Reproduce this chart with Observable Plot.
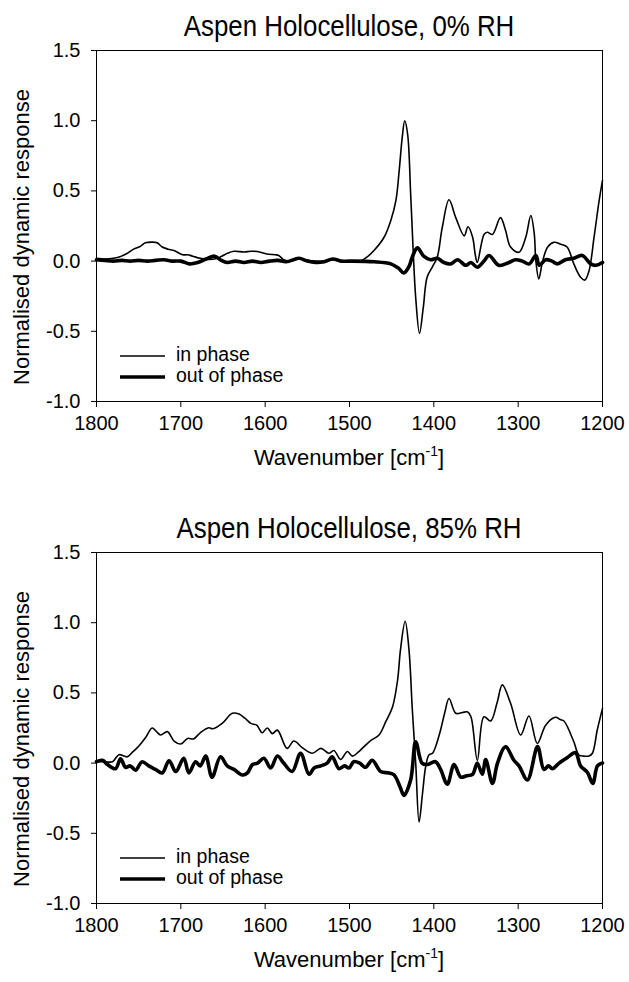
<!DOCTYPE html>
<html>
<head>
<meta charset="utf-8">
<script src="https://cdn.jsdelivr.net/npm/d3@7"></script>
<script src="https://cdn.jsdelivr.net/npm/@observablehq/plot@0.6"></script>
<style>
  html, body { margin: 0; padding: 0; background: #fff; }
  #page { position: relative; width: 629px; height: 982px; overflow: hidden; font-family: "Liberation Sans", Arial, sans-serif; color: #000; }
  .title { position: absolute; left: 96px; width: 506px; text-align: center; font-family: "Liberation Sans", Arial, sans-serif; font-size: 30px; line-height: 30px; white-space: nowrap; transform: scaleX(0.862); transform-origin: 50% 50%; }
  .xlabel { position: absolute; left: 96px; width: 506px; text-align: center; font-size: 22px; line-height: 22px; white-space: nowrap; }
  .xlabel sup { font-size: 14px; vertical-align: 9px; line-height: 0; }
  .ylabel { position: absolute; width: 340px; text-align: center; font-size: 22px; line-height: 22px; transform: translate(-50%, -50%) rotate(-90deg); white-space: nowrap; }
  .panel { position: absolute; left: 0; }
  .legend { position: absolute; font-size: 19.5px; line-height: 20px; }
  .legend .row { position: absolute; left: 0; white-space: nowrap; height: 20px; }
  .legend svg { position: absolute; left: 0; top: 0; overflow: visible; }
  .legend span { position: absolute; left: 56px; top: 0; }
</style>
</head>
<body>
<div id="page"></div>
<script>
// ---------------- data ----------------
// Panel 1: Aspen Holocellulose, 0% RH
const wn0In = [1800,1790,1780,1773,1765,1756,1748,1742,1734,1728,1722,1715,1708,1698,1692,1686,1677,1668,1660,1653,1645,1637,1625,1617,1609,1598,1588,1584,1578,1570,1560,1550,1540,1530,1518,1510,1500,1487,1479,1471,1459,1451,1445,1441,1437.5,1434.5,1431,1427.5,1424.5,1421.5,1417,1412.5,1408,1402,1396,1390,1382,1374,1364,1359.5,1354,1351,1348.5,1340.5,1336.5,1330.5,1321,1315,1309,1299,1291,1285,1281,1279,1275.5,1271,1265,1257.5,1249.5,1242,1234,1226,1221,1216,1210,1204,1200];
const val0In = [0.02,0.015,0.02,0.03,0.05,0.085,0.105,0.13,0.135,0.13,0.1,0.085,0.075,0.045,0.045,0.035,0.02,0.012,0.015,0.03,0.055,0.07,0.065,0.07,0.068,0.05,0.045,0.04,0.01,0.0,0.015,0.005,0.0,0.0,0.01,0.0,0.0,0.0,0.03,0.075,0.17,0.29,0.43,0.65,0.88,1.0,0.9,0.48,0.075,-0.26,-0.515,-0.33,-0.115,-0.044,0.027,0.24,0.437,0.31,0.18,0.245,0.17,0.05,-0.01,0.19,0.206,0.19,0.31,0.22,0.1,0.063,0.17,0.325,0.2,0.0,-0.127,0.0,0.1,0.134,0.12,0.1,-0.02,-0.115,-0.135,-0.07,0.17,0.43,0.575];

const wn0Out = [1800,1790,1780,1770,1760,1750,1740,1730,1720,1710,1700,1690,1680,1670,1660,1652,1645,1635,1625,1615,1605,1595,1585,1575,1560,1550,1540,1530,1520,1510,1500,1471,1451,1442,1435.5,1429.5,1425.5,1419.5,1412,1404,1396,1388,1380,1372,1362,1356,1348.5,1340.5,1334.5,1323,1311,1303,1295,1287,1279,1275,1267.5,1260,1253.5,1244,1234,1224,1214,1208,1200];
const val0Out = [0.01,0.005,0.0,0.005,0.0,0.005,0.0,0.005,0.01,0.0,0.0,-0.02,-0.01,0.015,0.035,0.005,-0.01,0.0,-0.01,0.0,-0.01,0.0,0.005,-0.005,0.02,0.0,-0.01,-0.005,0.015,0.0,0.0,-0.005,-0.02,-0.05,-0.085,-0.04,0.03,0.094,0.035,0.01,0.02,-0.01,-0.02,0.01,-0.03,-0.01,-0.044,0.0,0.04,-0.03,-0.01,0.01,0.0,-0.02,0.04,-0.03,0.01,0.0,-0.02,0.01,0.02,0.04,-0.02,-0.03,-0.01];

// Panel 2: Aspen Holocellulose, 85% RH
const wn85In = [1800,1790,1781,1773.5,1767,1763.5,1757,1750,1742,1734,1729,1724,1716,1708,1700,1692,1685,1677,1667,1662,1651,1639,1631,1624,1617,1610,1603.5,1597.5,1591.5,1585.5,1574,1566,1556,1544,1534,1524.5,1518.5,1510.5,1502.5,1496.5,1487,1475,1465,1457,1449,1443,1439.5,1434,1429.5,1425.5,1421.5,1417.5,1413.5,1409.7,1405.8,1401.5,1397.9,1392,1387,1382,1374,1366,1360.3,1356,1348.4,1340.6,1332.6,1325,1318.8,1309,1297,1287.2,1277.3,1267.4,1256,1250,1245.7,1234,1228,1222,1216,1212,1206.2,1200];
const val85In = [0.01,0.01,0.01,0.06,0.05,0.045,0.08,0.12,0.18,0.25,0.225,0.2,0.224,0.157,0.136,0.176,0.172,0.216,0.252,0.245,0.283,0.355,0.35,0.32,0.283,0.27,0.216,0.25,0.21,0.235,0.105,0.157,0.11,0.07,0.105,0.07,0.09,0.026,0.083,0.05,0.093,0.16,0.2,0.295,0.4,0.59,0.81,1.01,0.81,0.38,0.0,-0.42,-0.22,-0.026,0.057,0.07,0.117,0.236,0.36,0.46,0.355,0.36,0.365,0.33,0.02,0.33,0.3,0.43,0.557,0.426,0.2,0.336,0.14,0.27,0.326,0.31,0.3,0.152,0.057,0.05,0.05,0.07,0.236,0.39];

const wn85Out = [1800,1793,1787,1777.5,1771.5,1765.5,1760,1753.5,1746,1738,1730,1722,1714,1706,1696.5,1690.5,1682.5,1677,1670.5,1663,1653,1645,1637,1627,1621,1615,1609,1601.5,1593.5,1585.5,1578,1568,1558,1548,1542,1534,1526.5,1520.5,1512.5,1506,1500.5,1495,1488,1481,1473,1463,1453,1447,1440,1435.5,1427.5,1421.5,1414,1408,1398,1392,1384,1376,1368,1361,1354,1348.5,1342.5,1338.5,1330.5,1324.5,1315,1305,1299,1289,1277,1269.5,1264,1259.5,1251.5,1241.5,1232,1226,1218,1211.5,1206,1200];
const val85Out = [0.01,0.02,-0.01,-0.04,0.03,-0.03,-0.02,-0.05,0.01,-0.02,-0.045,-0.07,0.017,-0.06,0.035,-0.07,0.01,-0.02,0.05,-0.1,0.045,-0.02,-0.045,-0.085,-0.07,-0.01,0.0,0.035,-0.035,0.05,0.0,-0.06,0.07,-0.08,-0.035,-0.02,0.0,0.045,-0.04,-0.02,-0.035,0.01,0.0,-0.03,0.02,-0.06,-0.07,-0.085,-0.17,-0.23,-0.12,0.152,0.0,-0.01,0.01,-0.045,-0.15,-0.01,-0.1,-0.09,-0.08,0.0,-0.08,0.025,-0.145,0.0,0.117,0.02,-0.02,-0.12,0.117,-0.045,-0.02,-0.04,0.0,0.04,0.074,-0.02,-0.065,-0.145,-0.02,0.0];

const xTicks = [1800,1700,1600,1500,1400,1300,1200];
const yTicks = [-1.0,-0.5,0.0,0.5,1.0,1.5];
const titles = ["Aspen Holocellulose, 0% RH", "Aspen Holocellulose, 85% RH"];
const seriesNames = ["in phase", "out of phase"];
const yLabelText = "Normalised dynamic response";

// ---------------- drawing ----------------
const page = document.getElementById("page");
const toRows = (w, v) => w.map((x, i) => ({w: x, v: v[i]}));

const panels = [
  {top: 0, title: titles[0], inRows: toRows(wn0In, val0In), outRows: toRows(wn0Out, val0Out)},
  {top: 502, title: titles[1], inRows: toRows(wn85In, val85In), outRows: toRows(wn85Out, val85Out)}
];

panels.forEach((p, k) => {
  const H = k === 0 ? 490 : 480;
  const chart = Plot.plot({
    width: 629,
    height: H,
    marginTop: 50,
    marginLeft: 96,
    marginRight: 27,
    marginBottom: H - 401,
    style: {fontFamily: "'Liberation Sans', Arial, sans-serif", fontSize: "20px", color: "#000", background: "transparent", overflow: "visible"},
    x: {domain: [1800, 1200], type: "linear"},
    y: {domain: [-1.0, 1.5]},
    marks: [
      Plot.frame({stroke: "#000", strokeWidth: 1}),
      Plot.axisX({ticks: xTicks, tickFormat: d => String(d), tickSize: 6, tickPadding: 8, fontSize: 20, label: null, stroke: "#000"}),
      Plot.axisY({ticks: yTicks, tickFormat: d => d.toFixed(1), tickSize: 5, tickPadding: 11, fontSize: 20, label: null, stroke: "#000"}),
      Plot.line(p.outRows, {x: "w", y: "v", stroke: "#000", strokeWidth: 3.6, curve: "catmull-rom"}),
      Plot.line(p.inRows, {x: "w", y: "v", stroke: "#000", strokeWidth: 1.6, curve: "catmull-rom"})
    ]
  });
  chart.classList.add("panel");
  chart.style.top = p.top + "px";
  page.appendChild(chart);

  const t = document.createElement("div");
  t.className = "title";
  t.style.top = (p.top + 11) + "px";
  t.textContent = p.title;
  page.appendChild(t);

  const xl = document.createElement("div");
  xl.className = "xlabel";
  xl.style.top = (p.top + 447) + "px";
  xl.innerHTML = "Wavenumber [cm<sup>-1</sup>]";
  page.appendChild(xl);

  const yl = document.createElement("div");
  yl.className = "ylabel";
  yl.style.left = "22px";
  yl.style.top = (p.top + 237) + "px";
  yl.textContent = yLabelText;
  page.appendChild(yl);

  const lg = document.createElement("div");
  lg.className = "legend";
  lg.style.left = "120px";
  lg.style.top = (p.top + 344) + "px";
  lg.innerHTML =
    `<div class="row" style="top:0"><svg width="46" height="20"><line x1="0" x2="45" y1="12" y2="12" stroke="#000" stroke-width="1.6"/></svg><span>${seriesNames[0]}</span></div>` +
    `<div class="row" style="top:21px"><svg width="46" height="20"><line x1="0" x2="45" y1="12" y2="12" stroke="#000" stroke-width="3.6"/></svg><span>${seriesNames[1]}</span></div>`;
  page.appendChild(lg);
});
</script>
</body>
</html>
